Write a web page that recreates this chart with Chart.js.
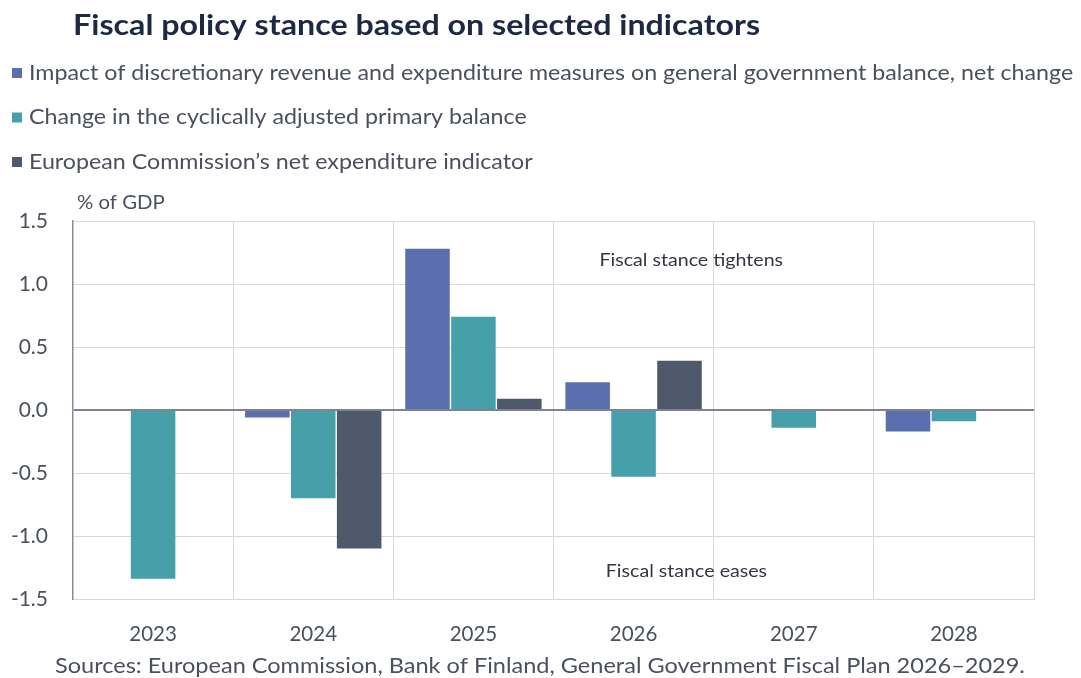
<!DOCTYPE html>
<html>
<head>
<meta charset="utf-8">
<script src="https://cdn.jsdelivr.net/npm/chart.js@4"></script>
<style>
  html, body { margin: 0; padding: 0; background: #ffffff; }
  canvas { display: block; }
</style>
</head>
<body>
<canvas id="chart" width="1081" height="678"></canvas>
<script>
// Years on the x axis
const years = ['2023', '2024', '2025', '2026', '2027', '2028'];

// % of GDP; null where an indicator has no bar
const discretionaryMeasures = [null, -0.06, 1.28, 0.22, null, -0.17];
const cyclicallyAdjustedBalance = [-1.34, -0.70, 0.74, -0.53, -0.14, -0.09];
const netExpenditureIndicator = [null, -1.10, 0.09, 0.39, null, null];

const seriesNames = [
  'Impact of discretionary revenue and expenditure measures on general government balance, net change',
  'Change in the cyclically adjusted primary balance',
  'European Commission\u2019s net expenditure indicator'
];
const seriesColors = ['#5b6fae', '#45a0aa', '#4e596b'];

const yTicks = [-1.5, -1.0, -0.5, 0.0, 0.5, 1.0, 1.5];

const titleText = 'Fiscal policy stance based on selected indicators';
const unitText = '% of GDP';
const sourceText = 'Sources: European Commission, Bank of Finland, General Government Fiscal Plan 2026\u20132029.';

// Region notes placed in data coordinates (category index, value)
const regionNotes = [
  { text: 'Fiscal stance tightens', x: 3.36, y: 1.19 },
  { text: 'Fiscal stance eases', x: 3.33, y: -1.28 }
];

const FONT = 'Lato, "Noto Sans", sans-serif';
const TEXT_GREY = '#4b505c';

// Draws text with a slight horizontal widening
function drawText(ctx, text, x, y, font, sx, align) {
  ctx.save();
  ctx.font = font;
  ctx.textAlign = align || 'left';
  ctx.textBaseline = 'middle';
  ctx.translate(x, y);
  ctx.scale(sx, 1);
  ctx.fillText(text, 0, 0);
  ctx.restore();
}

const decorations = {
  id: 'decorations',
  afterDraw(chart) {
    const ctx = chart.ctx;
    ctx.save();
    // Title
    ctx.fillStyle = '#1e2843';
    drawText(ctx, titleText, 73, 26, 'bold 28.5px ' + FONT, 1.13);

    // Legend, one entry per line
    chart.data.datasets.forEach((ds, i) => {
      const cy = 73 + i * 44.5;
      ctx.fillStyle = ds.backgroundColor;
      ctx.fillRect(12, cy - 5, 10, 10);
      ctx.fillStyle = TEXT_GREY;
      drawText(ctx, ds.label, 29, cy, '21.5px ' + FONT, 1.08);
    });

    // Unit label
    ctx.fillStyle = TEXT_GREY;
    drawText(ctx, unitText, 77, 203, '19px ' + FONT, 1.07);

    // Source line
    drawText(ctx, sourceText, 55, 666, '21px ' + FONT, 1.12);

    // Region notes
    const xs = chart.scales.x, ys = chart.scales.y;
    ctx.fillStyle = '#333740';
    regionNotes.forEach(n => {
      drawText(ctx, n.text, xs.getPixelForValue(n.x), ys.getPixelForValue(n.y), '18px ' + FONT, 1.09, 'center');
    });
    ctx.restore();
  }
};

const seriesData = [discretionaryMeasures, cyclicallyAdjustedBalance, netExpenditureIndicator];

new Chart(document.getElementById('chart'), {
  type: 'bar',
  data: {
    labels: years,
    datasets: seriesData.map((d, i) => ({
      label: seriesNames[i],
      data: d,
      backgroundColor: seriesColors[i],
      borderWidth: 0,
      barPercentage: 0.97,
      categoryPercentage: 0.86
    }))
  },
  options: {
    responsive: false,
    animation: false,
    layout: { padding: { top: 221, right: 47, bottom: 0, left: 0 } },
    plugins: {
      legend: { display: false },
      title: { display: false },
      tooltip: { enabled: false }
    },
    scales: {
      x: {
        grid: { offset: true, color: '#d9d9d9', lineWidth: 1, drawTicks: false },
        border: { display: true, color: '#d9d9d9', width: 1 },
        ticks: { color: TEXT_GREY, font: { family: FONT, size: 20.5 }, padding: 23 },
        afterFit(scale) { scale.height = 79; }
      },
      y: {
        min: -1.5,
        max: 1.5,
        afterBuildTicks(scale) { scale.ticks = yTicks.map(v => ({ value: v })); },
        ticks: {
          color: TEXT_GREY,
          font: { family: FONT, size: 21 },
          padding: 25,
          callback: v => Number(v).toFixed(1)
        },
        grid: {
          drawTicks: false,
          color: c => (c.tick && c.tick.value === 0 ? '#7d8393' : '#d9d9d9'),
          lineWidth: c => (c.tick && c.tick.value === 0 ? 2 : 1)
        },
        border: { display: true, color: '#878c99', width: 1.5 },
        afterFit(scale) { scale.width = 73; }
      }
    }
  },
  plugins: [decorations]
});
</script>
</body>
</html>
